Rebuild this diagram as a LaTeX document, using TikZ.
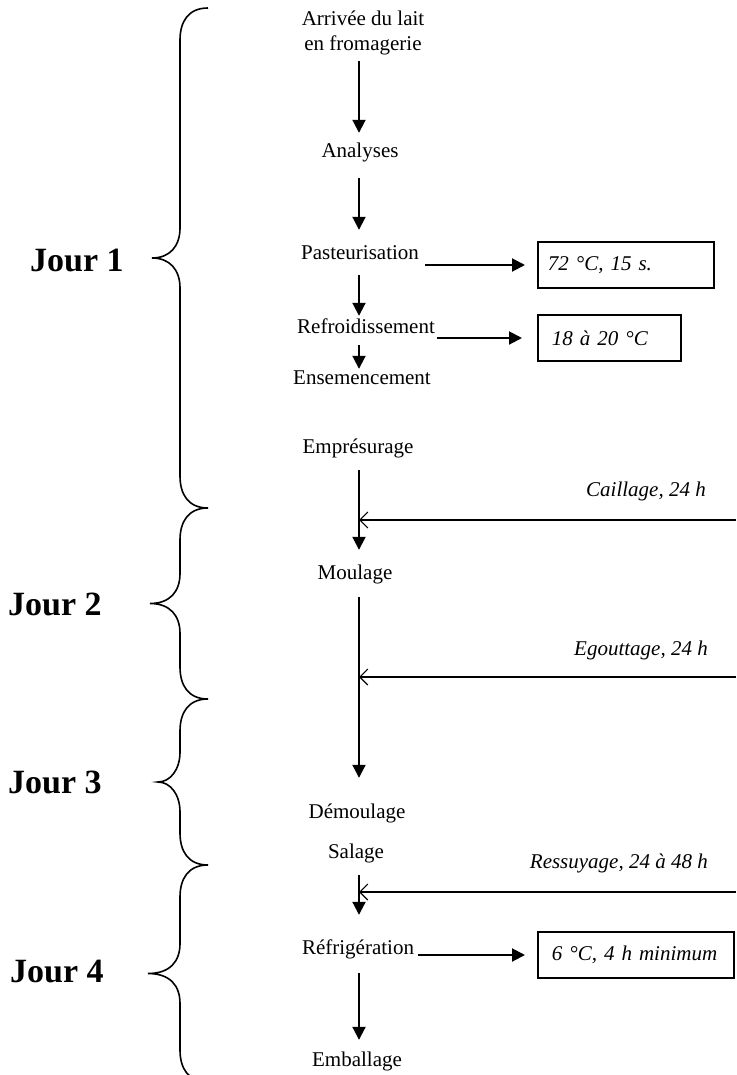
\documentclass[tikz,border=0pt]{standalone}
\usepackage{fontspec}
\setmainfont{Liberation Serif}
\usetikzlibrary{arrows.meta}

\begin{document}
\begin{tikzpicture}[x=1pt,y=-1pt,
    etape/.style={font=\fontsize{21}{25}\selectfont,inner sep=0pt,
                  text height=15pt,text depth=5pt,anchor=base},
    cond/.style={draw,line width=1.8pt,font=\fontsize{21}{25}\selectfont\itshape,
                 anchor=west,minimum height=46pt,inner xsep=10pt,align=left},
    flux/.style={line width=2pt,-{Triangle[width=13pt,length=13pt]}},
    apport/.style={line width=2pt,-{Straight Barb[length=8pt,width=16pt,line width=1.1pt]}},
    duree/.style={font=\fontsize{21}{25}\selectfont\itshape,anchor=base east,inner sep=0pt},
    jour/.style={font=\fontsize{34}{40}\selectfont\bfseries,anchor=base west,inner sep=0pt},
    accolade/.style={line width=1.6pt}]
  \path[fill=white] (0,0) rectangle (736,1075);
  \useasboundingbox (0,0) rectangle (736,1075);
  \coordinate (axe) at (359,0);

  %% Etapes
  \node[font=\fontsize{21}{25}\selectfont,inner sep=0pt,align=center]
        (arrivee) at (363,33) {Arrivée du lait\\en fromagerie};
  \node[etape] (analyses)  at (360,158)  {Analyses};
  \node[etape] (pasteur)   at (360,259)  {Pasteurisation};
  \node[etape] (refroid)   at (366,333)  {Refroidissement};
  \node[etape] (ensemenc)  at (362,384)  {Ensemencement};
  \node[etape] (empres)    at (358,453)  {Emprésurage};
  \node[etape] (moulage)   at (355,579)  {Moulage};
  \node[etape] (demoulage) at (357,818)  {Démoulage};
  \node[etape] (salage)    at (356,858)  {Salage};
  \node[etape] (refrig)    at (358,954)  {Réfrigération};
  \node[etape] (emball)    at (357,1066) {Emballage};

  %% Conditions
  \node[cond,text width=156pt] (bpast) at (537,265) {72 °C, 15 s.};
  \node[cond,text width=123pt] (brefr) at (537,338) {\hspace{4pt}18 à 20 °C};
  \node[cond,text width=176pt] (brefg) at (537,955) {\hspace{4pt}6 °C, 4 h minimum};

  %% Fleches verticales
  \draw[flux,shorten <=6pt,shorten >=10pt] (arrivee.south -| axe) -- (analyses.north -| axe);
  \draw[flux,shorten <=15pt,shorten >=14pt] (analyses.south -| axe) -- (pasteur.north -| axe);
  \draw[flux,shorten <=11pt,shorten >=2pt] (pasteur.south -| axe) -- (refroid.north -| axe);
  \draw[flux,shorten <=7pt,shorten >=0pt] (refroid.south -| axe) -- (ensemenc.north -| axe);
  \draw[flux,shorten <=12pt,shorten >=14pt] (empres.south -| axe) -- (moulage.north -| axe);
  \draw[flux,shorten <=13pt,shorten >=25pt] (moulage.south -| axe) -- (demoulage.north -| axe);
  \draw[flux,shorten <=12pt,shorten >=24pt] (salage.south -| axe) -- (refrig.north -| axe);
  \draw[flux,shorten <=14pt,shorten >=11pt] (refrig.south -| axe) -- (emball.north -| axe);

  %% Fleches vers les conditions
  \draw[flux,shorten <=6pt,shorten >=12pt] (bpast.west -| pasteur.east) -- (bpast.west);
  \draw[flux,shorten <=2pt,shorten >=15pt] (brefr.west -| refroid.east) -- (brefr.west);
  \draw[flux,shorten <=4pt,shorten >=12pt] (brefg.west -| refrig.east) -- (brefg.west);

  %% Durees
  \coordinate (caillR) at (736,520);
  \coordinate (egoutR) at (736,677);
  \coordinate (ressuR) at (736,892);
  \draw[apport] (caillR) -- (caillR -| axe);
  \draw[apport] (egoutR) -- (egoutR -| axe);
  \draw[apport] (ressuR) -- (ressuR -| axe);
  \node[duree] (caill) at (706,496) {Caillage, 24 h};
  \node[duree] (egout) at (708,655) {Egouttage, 24 h};
  \node[duree] (ressu) at (708,868) {Ressuyage, 24 à 48 h};

  %% Jours
  \foreach \haut/\bas/\pointe in {8/508/152, 508/699/150, 699/865/158, 865/1082/148}{
    \pgfmathsetmacro{\mil}{(\haut+\bas)/2}
    \draw[accolade] (208,\haut) .. controls (188,\haut) and (180,\haut+14) .. (180,\haut+32)
      -- (180,\mil-30) .. controls (180,\mil-12) and (170,\mil) .. (\pointe,\mil)
      .. controls (170,\mil) and (180,\mil+12) .. (180,\mil+30)
      -- (180,\bas-32) .. controls (180,\bas-14) and (188,\bas) .. (208,\bas);
  }
  \node[jour] (j1) at (30,271) {Jour 1};
  \node[jour] (j2) at (8,615)  {Jour 2};
  \node[jour] (j3) at (8,793)  {Jour 3};
  \node[jour] (j4) at (10,982) {Jour 4};
\end{tikzpicture}
\end{document}
